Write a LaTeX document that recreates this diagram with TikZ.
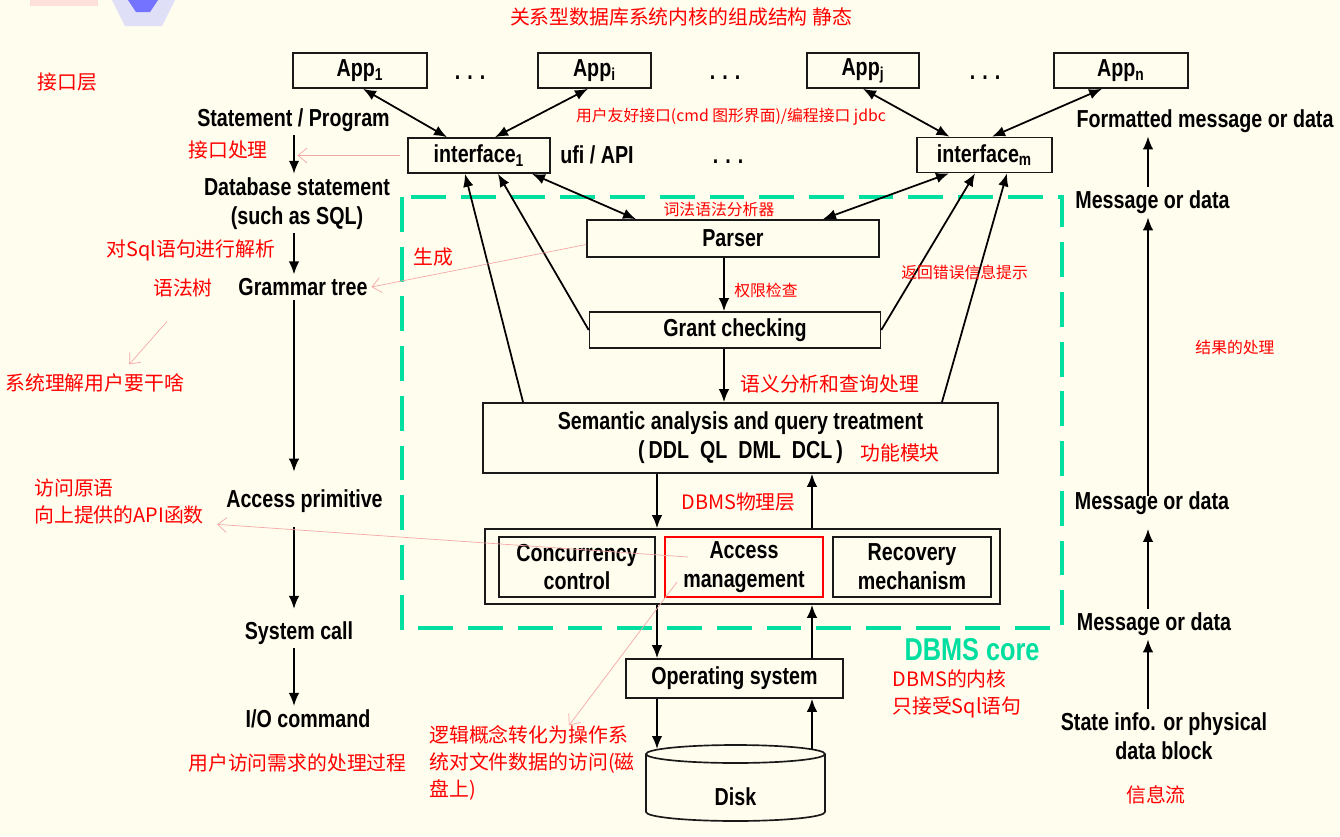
\documentclass[tikz,border=0pt]{standalone}
\usepackage{fontspec}
\setmainfont{Liberation Sans}[FakeStretch=0.8]
\newfontfamily\cjk{Noto Sans CJK SC}
\usetikzlibrary{arrows.meta}
\definecolor{fond}{RGB}{255,253,238}
\definecolor{turquoise}{RGB}{0,222,160}
\definecolor{rose}{RGB}{246,168,168}

\begin{document}
\begin{tikzpicture}[x=0.02cm,y=-0.02cm,
  boite/.style={draw=black!90,line width=0.95pt,inner sep=0pt,align=center,font=\bfseries\fontsize{14}{16.4}\selectfont},
  txt/.style={inner sep=2pt,align=center,font=\bfseries\fontsize{14}{16.4}\selectfont},
  note/.style={text=red,inner sep=0pt,font=\cjk\fontsize{11.3}{15.2}\selectfont},
  petit/.style={text=red,inner sep=0pt,font=\cjk\fontsize{9}{11}\selectfont},
  fl/.style={line width=1pt,-{Latex[length=2.6mm,width=2.1mm]}},
  dfl/.style={line width=1pt,{Latex[length=2.6mm,width=2.1mm]}-{Latex[length=2.6mm,width=2.1mm]}},
  rfl/.style={rose,thin,-{Straight Barb[length=1.8mm,width=3mm]}}]
\useasboundingbox (0,0) rectangle (1340,836);
\fill[fond] (0,0) rectangle (1340,836);
% restes du logo en haut
\fill[red!20,opacity=0.6] (30,0) rectangle (98,6);
\fill[blue!20,opacity=0.6] (112,0) -- (175,0) -- (162,26) -- (125,26) -- cycle;
\fill[blue!55] (128,0) -- (158,0) -- (150,12) -- (136,12) -- cycle;

% coeur du SGBD
\draw[turquoise,line width=2.6pt,dash pattern=on 19.8pt off 8.5pt] (402,197) rectangle (1062,628);
\node[font=\bfseries\fontsize{18}{20}\selectfont,text=turquoise] (core) at (972,650) {DBMS core};

% applications et interfaces
\node[boite,minimum width=2.68cm,minimum height=0.7cm] (app1) at (360,70.5) {App\textsubscript{1}};
\node[boite,minimum width=2.26cm,minimum height=0.7cm] (appi) at (594.5,70.5) {App\textsubscript{i}};
\node[boite,minimum width=2.24cm,minimum height=0.7cm] (appj) at (863,70.5) {App\textsubscript{j}};
\node[boite,minimum width=2.68cm,minimum height=0.7cm] (appn) at (1121,70.5) {App\textsubscript{n}};
\node[txt] (dots1) at (470,78) {.\hspace{4pt}.\hspace{4pt}.};
\node[txt] (dots2) at (725,78) {.\hspace{4pt}.\hspace{4pt}.};
\node[txt] (dots3) at (985,78) {.\hspace{4pt}.\hspace{4pt}.};
\node[boite,minimum width=2.84cm,minimum height=0.7cm] (if1) at (479,155.5) {interface\textsubscript{1}};
\node[boite,minimum width=2.7cm,minimum height=0.7cm] (ifm) at (984.5,155) {interface\textsubscript{m}};
\node[txt] (ufi) at (597,155) {ufi / API};
\node[txt] (dots4) at (728,162) {.\hspace{4pt}.\hspace{4pt}.};

% modules
\node[boite,minimum width=5.84cm,minimum height=0.74cm] (parser) at (733,238.5) {Parser};
\node[boite,minimum width=5.82cm,minimum height=0.72cm] (grant) at (735,330) {Grant checking};
\node[boite,minimum width=10.3cm,minimum height=1.4cm] (sem) at (740.5,438) {Semantic analysis and query treatment\\(\,DDL~~QL~~DML~~DCL\,)};
\node[boite,minimum width=10.3cm,minimum height=1.5cm] (phys) at (742.5,566.5) {};
\node[boite,minimum width=3.12cm,minimum height=1.2cm] (cc) at (577,567) {Concurrency\\control};
\node[boite,draw=red,minimum width=3.16cm,minimum height=1.2cm] (am) at (744,567) {Access\\management};
\node[boite,minimum width=3.16cm,minimum height=1.2cm] (rm) at (912,567) {Recovery\\mechanism};
\node[boite,minimum width=4.34cm,minimum height=0.78cm] (os) at (734.5,678.5) {Operating system};

% disque
\draw[line width=0.95pt,draw=black!90] (646,754) -- (646,812) arc[start angle=180,end angle=360,x radius=1.79cm,y radius=0.18cm] -- (825,754);
\draw[line width=0.95pt,draw=black!90] (735.5,754) ellipse [x radius=1.79cm,y radius=0.18cm];
\node[txt] (disk) at (735.5,797) {Disk};
\coordinate (dtop) at (735.5,749);

% fleches du coeur
\draw[dfl] ([xshift=0.06cm]app1.south) -- ([xshift=-0.64cm]if1.north);
\draw[dfl] ([xshift=-0.13cm]appi.south) -- ([xshift=0.32cm]if1.north);
\draw[dfl] (appj.south) -- ([xshift=-0.7cm]ifm.north);
\draw[dfl] ([xshift=-0.38cm]appn.south) -- ([xshift=0.15cm]ifm.north);
\draw[dfl] ([xshift=1.06cm]if1.south) -- ([xshift=-1.94cm]parser.north);
\draw[dfl] ([xshift=-0.71cm]ifm.south) -- ([xshift=1.8cm]parser.north);
\draw[fl] (grant.west) -- ([xshift=0.38cm]if1.south);
\draw[fl] ([xshift=-4.35cm]sem.north) -- ([xshift=-0.28cm]if1.south);
\draw[fl] (grant.east) -- ([xshift=-0.19cm]ifm.south);
\draw[fl] ([xshift=4.03cm]sem.north) -- ([xshift=0.45cm]ifm.south);
\coordinate (cx) at (724,0);
\draw[fl] (parser.south -| cx) -- (grant.north -| cx);
\draw[fl] (grant.south -| cx) -- (sem.north -| cx);
\coordinate (dn) at (657,0);
\coordinate (up) at (812,0);
\draw[fl] (sem.south -| dn) -- (phys.north -| dn);
\draw[fl] (phys.north -| up) -- (sem.south -| up);
\draw[fl] (phys.south -| dn) -- (os.north -| dn);
\draw[fl] (os.north -| up) -- (phys.south -| up);
\draw[fl] (os.south -| dn) -- (dtop -| dn);
\draw[fl] (dtop -| up) -- (os.south -| up);

% colonne de gauche
\node[txt] (stmt) at (293.5,120) {Statement / Program};
\node[txt] (dbs) at (297,203.5) {Database statement\\(such as SQL)};
\node[txt] (gram) at (303,287) {Grammar tree};
\node[txt] (acc) at (304.5,501) {Access primitive};
\node[txt] (sys) at (299,633) {System call};
\node[txt] (io) at (308,719) {I/O command};
\coordinate (lx) at (294,0);
\draw[fl] (stmt.south -| lx) -- (dbs.north -| lx);
\draw[fl] (dbs.south -| lx) -- (gram.north -| lx);
\draw[fl,shorten >=8pt] (gram.south -| lx) -- (acc.north -| lx);
\draw[fl,shorten <=6pt,shorten >=5pt] (acc.south -| lx) -- (sys.north -| lx);
\draw[fl] (sys.south -| lx) -- (io.north -| lx);

% colonne de droite
\node[txt] (fmt) at (1205,121) {Formatted message or data};
\node[txt] (msg1) at (1152.5,202) {Message or data};
\node[txt] (msg2) at (1152,503) {Message or data};
\node[txt] (msg3) at (1154,624) {Message or data};
\node[txt] (state) at (1164,736.5) {State info. or physical\\data block};
\coordinate (rx) at (1148,0);
\draw[fl] (msg1.north -| rx) -- (fmt.south -| rx);
\draw[fl,shorten <=-5pt] (msg2.north -| rx) -- (msg1.south -| rx);
\draw[fl,shorten >=6pt] (msg3.north -| rx) -- (msg2.south -| rx);
\draw[fl] (state.north -| rx) -- (msg3.south -| rx);

% notes en rouge
\node[note] (titre) at (681,17) {关系型数据库系统内核的组成结构 静态};
\node[note,anchor=west] (couche) at (37,82) {接口层};
\node[note] (traite) at (228,150) {接口处理};
\node[note] (analyse) at (191,250) {对Sql语句进行解析};
\node[note] (arbre) at (183,288) {语法树};
\node[note,anchor=west] (comprend) at (5,383) {系统理解用户要干啥};
\node[note,anchor=west,align=left] (primit) at (34,501.5) {访问原语\\向上提供的API函数};
\node[note] (besoin) at (297.5,763) {用户访问需求的处理过程};
\node[note,anchor=west,align=left] (logique) at (429,763) {逻辑概念转化为操作系\\统对文件数据的访问(磁\\盘上)};
\node[note] (genere) at (433,257) {生成};
\node[note,anchor=west] (semnote) at (740,384) {语义分析和查询处理};
\node[note,anchor=west] (module) at (860,453) {功能模块};
\node[note] (phynote) at (738.5,502) {DBMS物理层};
\node[note,anchor=west,align=left] (noyau) at (892,694) {DBMS的内核\\只接受Sql语句};
\node[note] (flux) at (1156,795) {信息流};
\node[petit] (ufinote) at (731,117) {用户友好接口(cmd 图形界面)/编程接口 jdbc};
\node[petit] (lexnote) at (719,210) {词法语法分析器};
\node[petit,anchor=west] (grantnote) at (734,290) {权限检查};
\node[petit,anchor=west] (errnote) at (901,272) {返回错误信息提示};
\node[petit] (resnote) at (1235,347) {结果的处理};

% fleches roses
\draw[rfl,shorten <=4pt,shorten >=2pt] (if1.west) -- (if1.west -| lx);
\draw[rfl] ([yshift=-0.12cm]parser.west) -- (gram.east);
\draw[rfl] ([xshift=-0.32cm,yshift=-0.48cm]arbre.south) -- ([xshift=0.69cm,yshift=0.18cm]comprend.north);
\draw[rfl] ([xshift=-1.12cm,yshift=0.2cm]am.center) -- ([xshift=0.26cm]primit.south east);
\draw[rfl] ([xshift=-1.34cm,yshift=-0.3cm]am.center) -- ([xshift=0.74cm]logique.north);
\end{tikzpicture}
\end{document}
